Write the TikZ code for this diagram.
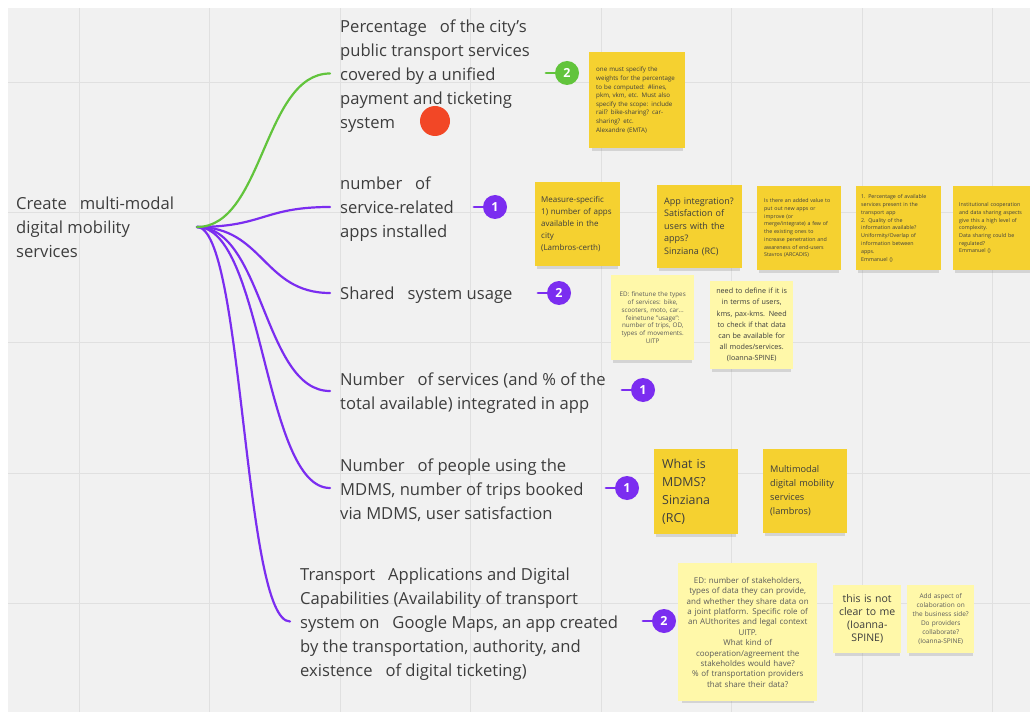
\documentclass[tikz,border=0pt]{standalone}
\usepackage{fontspec}
\setmainfont{Open Sans}
\usetikzlibrary{positioning,calc,shadows}

\definecolor{canvas}{HTML}{F1F1F1}
\definecolor{gridc}{HTML}{E0E0E0}
\definecolor{ink}{HTML}{3D3D3D}
\definecolor{mmgreen}{HTML}{62C43C}
\definecolor{mmpurple}{HTML}{7B2DF0}
\definecolor{mmred}{HTML}{F24726}
\definecolor{stickyd}{HTML}{F5D130}
\definecolor{stickyl}{HTML}{FFF8A9}

\tikzset{
  gridline/.style={draw=gridc, line width=0.8pt},
  leaf/.style={anchor=west, align=left, text=ink, inner xsep=10pt, inner ysep=0pt, yshift=-2.5pt, font=\fontsize{16.6}{24}\selectfont},
  branch/.style={draw=#1, line width=2.2pt, line cap=round},
  badge/.style={circle, fill=#1, text=white, inner sep=0pt, minimum size=24pt, font=\fontsize{12.5}{12.5}\selectfont\bfseries},
  note/.style={fill=#1, anchor=north west, inner ysep=0pt, text=ink, drop shadow={shadow xshift=0pt, shadow yshift=-5pt, shadow scale=0.95, opacity=0.25}},
}

\begin{document}
\begin{tikzpicture}[x=1pt,y=-1pt]
\clip (0,0) rectangle (1030,719);
\fill[canvas] (8,8) rectangle (1030,712);
\foreach \i in {0,...,7} \draw[gridline] ({79+130.5*\i},8) -- ({79+130.5*\i},712);
\foreach \i in {0,...,4} \draw[gridline] (8,{82+130.4*\i}) -- (1030,{82+130.4*\i});

\node (root) at (16,227) [leaf, inner xsep=0pt, yshift=2pt] {Create\ \ \ multi-modal\\digital mobility\\services};
\coordinate (hub) at (197,227);

\coordinate (c1) at (330,73.5);
\coordinate (c2) at (330,207);
\coordinate (c3) at (330,293);
\coordinate (c4) at (330,391);
\coordinate (c5) at (330,488);
\coordinate (c6) at (290,621.5);

\node (t1) at (c1) [leaf] {Percentage\ \ \ of the city’s\\public transport services\\covered by a unified\\payment and ticketing\\system};
\node (t2) at (c2) [leaf] {number\ \ \ of\\service-related\\apps installed};
\node (t3) at (c3) [leaf] {Shared\ \ \ system usage};
\node (t4) at (c4) [leaf] {Number\ \ \ of services (and \% of the\\total available) integrated in app};
\node (t5) at (c5) [leaf] {Number\ \ \ of people using the\\MDMS, number of trips booked\\via MDMS, user satisfaction};
\node (t6) at (c6) [leaf] {Transport\ \ \ Applications and Digital\\Capabilities (Availability of transport\\system on\ \ \ Google Maps, an app created\\by the transportation, authority, and\\existence\ \ \ of digital ticketing)};

\foreach \t/\col in {t2/mmpurple,t3/mmpurple,t4/mmpurple,t5/mmpurple,t6/mmpurple,t1/mmgreen} {
\coordinate (e) at ([yshift=2.5pt]\t.west);
\coordinate (m) at ($(hub)!.5!(e)$);
\draw[branch=\col] (hub) .. controls (m |- hub) and (m |- e) .. (e);
}

\node (dot) at (435,121) [circle, fill=mmred, minimum size=30pt, inner sep=0pt] {};

\node (b1) at (567,73) [badge=mmgreen] {2};
\node (b2) at (495,207) [badge=mmpurple] {1};
\node (b3) at (559,293) [badge=mmpurple] {2};
\node (b4) at (643,390) [badge=mmpurple] {1};
\node (b5) at (627,488) [badge=mmpurple] {1};
\node (b6) at (664,621) [badge=mmpurple] {2};
\foreach \b/\col in {b1/mmgreen,b2/mmpurple,b3/mmpurple,b4/mmpurple,b5/mmpurple,b6/mmpurple}
\draw[branch=\col] (\b.west) -- ++(-9,0);

\node (nA) at (589,52) [note=stickyd, minimum height=96pt, text width=82pt, inner xsep=7pt, align=left, font=\fontsize{6.2}{8.6}\selectfont] {one must specify the\\weights for the percentage\\to be computed: \#lines,\\pkm, vkm, etc. Must also\\specify the scope: include\\rail? bike-sharing? car-\\sharing? etc.\\Alexandre (EMTA)};

\node (n1) at (535,182) [note=stickyd, minimum height=84pt, text width=73pt, inner xsep=6pt, align=left, font=\fontsize{8}{12}\selectfont] {Measure-specific\\1) number of apps\\available in the\\city\\(Lambros-certh)};
\node (n2) at (657,185) [note=stickyd, minimum height=83pt, text width=71pt, inner xsep=7pt, align=left, font=\fontsize{9}{12.5}\selectfont] {App integration?\\Satisfaction of\\users with the\\apps?\\Sinziana (RC)};
\node (n3) at (757,186) [note=stickyd, minimum height=84pt, text width=70pt, inner xsep=7pt, align=left, font=\fontsize{5.3}{7.7}\selectfont] {Is there an added value to\\put out new apps or\\improve (or\\merge/integrate) a few of\\the existing ones to\\increase penetration and\\awareness of end-users\\Stavros (ARCADIS)};
\node (n4) at (856,186) [note=stickyd, minimum height=84pt, text width=75pt, inner xsep=5pt, align=left, font=\fontsize{5.3}{7.8}\selectfont] {1. Percentage of available\\services present in the\\transport app\\2. Quality of the\\information available?\\Uniformity/Overlap of\\information between\\apps.\\Emmanuel ()};
\node (n5) at (953,186) [note=stickyd, minimum height=84pt, text width=73pt, inner xsep=6pt, align=left, font=\fontsize{5.3}{7.7}\selectfont] {Institutional cooperation\\and data sharing aspects\\give this a high level of\\complexity.\\Data sharing could be\\regulated?\\Emmanuel ()};

\node (n6) at (611,275) [note=stickyl, minimum height=85pt, text width=75pt, inner xsep=4pt, align=center, text=ink!85, font=\fontsize{6.3}{7.7}\selectfont] {ED: finetune the types\\of services: bike,\\scooters, moto, car...\\feinetune "usage":\\number of trips, OD,\\types of movements.\\UITP};
\node (n7) at (710,281) [note=stickyl, minimum height=88pt, text width=75pt, inner xsep=4pt, align=center, font=\fontsize{7.2}{11.2}\selectfont] {need to define if it is\\in terms of users,\\kms, pax-kms. Need\\to check if that data\\can be available for\\all modes/services.\\(Ioanna-SPINE)};

\node (n8) at (654,449) [note=stickyd, minimum height=85pt, text width=68pt, inner xsep=8pt, align=left, font=\fontsize{12.4}{18}\selectfont] {What is\\MDMS?\\Sinziana\\(RC)};
\node (n9) at (763,449) [note=stickyd, minimum height=84pt, text width=70pt, inner xsep=7pt, align=left, font=\fontsize{9.2}{14}\selectfont] {Multimodal\\digital mobility\\services\\(lambros)};

\node (n10) at (678,563) [note=stickyl, minimum height=138pt, text width=129pt, inner xsep=5pt, align=center, text=ink!85, font=\fontsize{8}{10.4}\selectfont] {ED: number of stakeholders,\\types of data they can provide,\\and whether they share data on\\a joint platform. Specific role of\\an AUthorites and legal context\\UITP.\\What kind of\\cooperation/agreement the\\stakeholdes would have?\\\% of transportation providers\\that share their data?};
\node (n11) at (833,585) [note=stickyl, minimum height=68pt, text width=62pt, inner xsep=3pt, align=center, font=\fontsize{10.5}{13}\selectfont] {this is not\\clear to me\\(Ioanna-\\SPINE)};
\node (n12) at (907,585) [note=stickyl, minimum height=68pt, text width=61pt, inner xsep=3pt, align=center, text=ink!85, font=\fontsize{6.5}{9}\selectfont] {Add aspect of\\colaboration on\\the business side?\\Do providers\\collaborate?\\(Ioanna-SPINE)};
\end{tikzpicture}
\end{document}
